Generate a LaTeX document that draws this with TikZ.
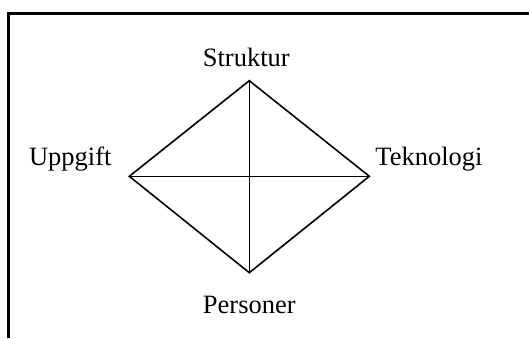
\documentclass[tikz,border=0pt]{standalone}
\usepackage{fontspec}
\setmainfont{Liberation Serif}
\begin{document}
\begin{tikzpicture}[x=1pt,y=1pt,
  lbl/.style={anchor=base,inner sep=0pt,font=\fontsize{26.5}{30}\selectfont},
  edge/.style={line width=1.6pt,line cap=round,line join=miter},
  frame/.style={line width=2.2pt}]
\useasboundingbox (0,0) rectangle (529,338);
\coordinate (fb) at (8.5,0);
\coordinate (ftl) at (8.5,324.5);
\coordinate (fr) at (529,324.5);
\draw[frame] (fb) -- (ftl) -- (fr);
\coordinate (T) at (249.3,257.3);
\coordinate (B) at (249.3,65.3);
\coordinate (L) at (129.3,161.7);
\coordinate (R) at (369.3,161.7);
\draw[edge] (T) -- (R) -- (B) -- (L) -- cycle;
\draw[edge] (T) -- (B);
\draw[edge] (L) -- (R);
\node[lbl] (s) at (246.3,272) {Struktur};
\node[lbl] (u) at (70.3,173) {Uppgift};
\node[lbl] (t) at (429,173) {Teknologi};
\node[lbl] (p) at (249.3,25) {Personer};
\end{tikzpicture}
\end{document}
